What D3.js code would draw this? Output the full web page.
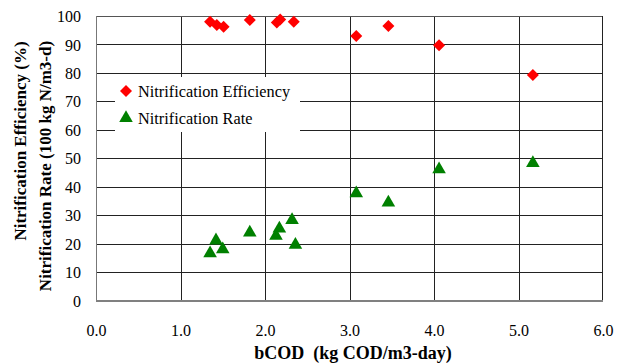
<!DOCTYPE html>
<html><head><meta charset="utf-8">
<script src="https://cdn.jsdelivr.net/npm/d3@7"></script>
</head><body style="margin:0;background:#fff"><svg id="c" width="617" height="364"></svg>
<script>
const effX = [1.35, 1.43, 1.51, 1.82, 2.14, 2.18, 2.34, 3.08, 3.46, 4.06, 5.17];
const effY = [98.0, 96.8, 96.2, 98.6, 97.7, 98.8, 98.0, 93.0, 96.5, 89.7, 79.3];
const rateX = [1.35, 1.42, 1.50, 1.82, 2.13, 2.17, 2.32, 2.36, 3.08, 3.46, 4.06, 5.17];
const rateY = [16.6, 21.1, 18.0, 23.9, 22.7, 25.3, 28.3, 19.6, 37.7, 34.4, 46.1, 48.3];
const xTicks = [0, 1, 2, 3, 4, 5, 6];
const yTicks = [0, 10, 20, 30, 40, 50, 60, 70, 80, 90, 100];
const seriesNames = ["Nitrification Efficiency", "Nitrification Rate"];

const FONT = "Liberation Serif";
const svg = d3.select("#c");
const L = 96, R = 603, T = 16, B = 300.5;
const x = d3.scaleLinear().domain([0, 6]).range([L, R]);
const y = d3.scaleLinear().domain([0, 100]).range([B, T]);

// gridlines
const g = svg.append("g");
g.selectAll(".gx").data(xTicks.slice(1, -1)).join("line")
  .attr("x1", d => Math.round(x(d)) + 0.5).attr("x2", d => Math.round(x(d)) + 0.5)
  .attr("y1", T).attr("y2", B).attr("stroke", "#222").attr("stroke-width", 1);
g.selectAll(".gy").data(yTicks.slice(1, -1)).join("line")
  .attr("y1", d => Math.round(y(d)) + 0.5).attr("y2", d => Math.round(y(d)) + 0.5)
  .attr("x1", L).attr("x2", R).attr("stroke", "#222").attr("stroke-width", 1);
// border
svg.append("line").attr("x1", L).attr("x2", R).attr("y1", T + 0.5).attr("y2", T + 0.5).attr("stroke", "#555");
svg.append("line").attr("x1", R - 0.5).attr("x2", R - 0.5).attr("y1", T).attr("y2", B).attr("stroke", "#222");
svg.append("line").attr("x1", L + 0.5).attr("x2", L + 0.5).attr("y1", T).attr("y2", B + 1).attr("stroke", "#777");
svg.append("line").attr("x1", L).attr("x2", R).attr("y1", B + 0.5).attr("y2", B + 0.5).attr("stroke", "#808080").attr("stroke-width", 2);

// axes labels
const xa = svg.append("g").attr("transform", `translate(0,${B + 21})`)
  .call(d3.axisBottom(x).tickValues(xTicks).tickFormat(d3.format(".1f")).tickSize(0));
xa.select(".domain").remove();
xa.selectAll("text").attr("fill", "#000").attr("font-family", FONT).attr("font-size", 16);
const ya = svg.append("g").attr("transform", `translate(${L - 12},0)`)
  .call(d3.axisLeft(y).tickValues(yTicks).tickSize(0));
ya.select(".domain").remove();
ya.selectAll("text").attr("fill", "#000").attr("dy", "0.35em").attr("font-family", FONT).attr("font-size", 16);

// titles
svg.append("text").attr("x", 353).attr("y", 359).attr("text-anchor", "middle").attr("font-family", FONT)
  .attr("font-weight", "bold").attr("font-size", 18).attr("xml:space", "preserve").text("bCOD  (kg COD/m3-day)");
svg.append("text").attr("transform", "translate(26,141) rotate(-90)").attr("text-anchor", "middle").attr("font-family", FONT)
  .attr("font-weight", "bold").attr("font-size", 17).text("Nitrification Efficiency (%)");
svg.append("text").attr("transform", "translate(51,166) rotate(-90)").attr("text-anchor", "middle").attr("font-family", FONT)
  .attr("font-weight", "bold").attr("font-size", 17).text("Nitrification Rate (100 kg N/m3-d)");

// marks
const diamond = d3.symbol().type(d3.symbolSquare).size(72);
const tri = d3.symbol().type(d3.symbolTriangle).size(80);
svg.append("g").selectAll("path").data(effX.map((v, i) => [v, effY[i]])).join("path")
  .attr("d", diamond).attr("fill", "#ff0000")
  .attr("transform", d => `translate(${x(d[0])},${y(d[1])}) rotate(45)`);
svg.append("g").selectAll("path").data(rateX.map((v, i) => [v, rateY[i]])).join("path")
  .attr("d", tri).attr("fill", "#008000")
  .attr("transform", d => `translate(${x(d[0])},${y(d[1])})`);

// legend
const lg = svg.append("g");
lg.append("rect").attr("x", 115).attr("y", 77).attr("width", 185).attr("height", 55).attr("fill", "#fff");
lg.append("path").attr("d", diamond).attr("fill", "#ff0000").attr("transform", "translate(126,91) rotate(45)");
lg.append("path").attr("d", tri).attr("fill", "#008000").attr("transform", "translate(126,118)");
lg.append("text").attr("x", 138).attr("y", 97).attr("font-size", 16.3).attr("font-family", FONT).text(seriesNames[0]);
lg.append("text").attr("x", 138).attr("y", 124).attr("font-size", 16.3).attr("font-family", FONT).text(seriesNames[1]);
</script></body></html>
